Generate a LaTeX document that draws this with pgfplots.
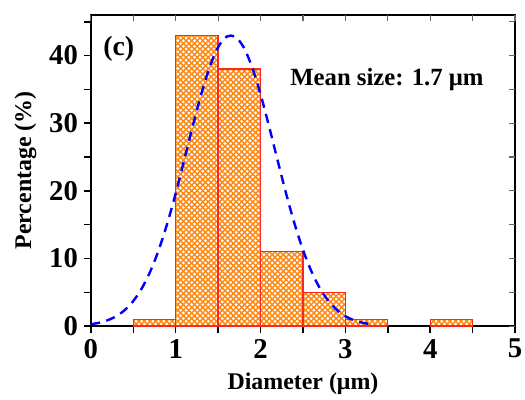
\documentclass[border=0pt]{standalone}
\usepackage{pgfplots}
\pgfplotsset{compat=1.18}
\usepackage{fontspec}
\setmainfont{Liberation Serif}
\usetikzlibrary{patterns}
\pgfdeclarepatternformonly{mycross}{\pgfqpoint{-0.5pt}{-0.5pt}}{\pgfqpoint{3.5pt}{3.5pt}}{\pgfqpoint{3pt}{3pt}}{%
  \pgfsetlinewidth{0.75pt}%
  \pgfpathmoveto{\pgfqpoint{-0.2pt}{-0.2pt}}\pgfpathlineto{\pgfqpoint{3.2pt}{3.2pt}}%
  \pgfpathmoveto{\pgfqpoint{-0.2pt}{3.2pt}}\pgfpathlineto{\pgfqpoint{3.2pt}{-0.2pt}}%
  \pgfusepath{stroke}}
\definecolor{barorange}{RGB}{255,135,15}
\definecolor{baredge}{RGB}{250,40,30}
\begin{document}
\begin{tikzpicture}
\pgfplotsset{
  common/.style={
    scale only axis, width=229pt, height=168pt,
    xmin=0, xmax=5, ymin=0, ymax=46,
    xtick={0,1,2,3,4,5}, minor xtick={0.5,1.5,2.5,3.5,4.5},
    ytick={0,10,20,30,40}, minor ytick={5,15,25,35,45},
    major tick length=3.5pt, minor tick length=3.5pt,
    axis line style={line width=0.9pt},
    every tick/.style={black, line width=0.8pt},
  }
}
\begin{axis}[common, name=main,
    tick align=outside, xtick pos=bottom, ytick pos=left,
    /pgf/number format/assume math mode=true,
    tick label style={font=\fontsize{15.5}{15.5}\selectfont\bfseries},
    label style={font=\fontsize{12.9}{13}\selectfont\bfseries},
    xlabel={Diameter (μm)}, ylabel={Percentage (\%)},
    xlabel style={yshift=-0.8pt}, ylabel style={yshift=0pt},
    clip=false]
\addplot[ybar interval, draw=baredge, line width=0.7pt, pattern=mycross, pattern color=barorange]
  coordinates {(0.5,1) (1.0,43) (1.5,38) (2.0,11) (2.5,5) (3.0,1) (3.5,1)};
\addplot[ybar interval, draw=baredge, line width=0.7pt, pattern=mycross, pattern color=barorange]
  coordinates {(4.0,1) (4.5,1)};
\addplot[blue, line width=1.3pt, dash pattern=on 5pt off 3.5pt, smooth] coordinates {
(0,0.28) (0.1,0.50) (0.2,0.88) (0.3,1.47) (0.4,2.38) (0.5,3.72) (0.6,5.58) (0.7,8.09)
(0.8,11.28) (0.9,15.17) (1.0,19.66) (1.1,24.56) (1.2,29.55) (1.3,34.27) (1.4,38.30)
(1.5,41.25) (1.6,42.80) (1.7,42.80) (1.8,41.25) (1.9,38.30) (2.0,34.27) (2.1,29.55)
(2.2,24.56) (2.3,19.66) (2.4,15.17) (2.5,11.28) (2.6,8.09) (2.7,5.58) (2.8,3.72)
(2.9,2.38) (3.0,1.47) (3.1,0.88) (3.2,0.50) (3.3,0.28)};
\node[font=\fontsize{15}{15}\selectfont\bfseries, anchor=north west, inner sep=0pt]
  at ([xshift=6.5pt,yshift=-11.5pt]rel axis cs:0,1) {(c)};
\node[font=\fontsize{13.35}{14}\selectfont\bfseries, anchor=base west, inner sep=0pt]
  at ([xshift=107.5pt,yshift=-37.8pt]rel axis cs:0,1) {Mean size: 1.7 μm};
\end{axis}
\begin{axis}[common, tick align=inside, xtick pos=top, ytick pos=right,
    xticklabels={}, yticklabels={}, axis line style={draw=none},
    every tick/.style={black!60, line width=0.6pt}]
\end{axis}
\pgfresetboundingbox
\useasboundingbox ([xshift=-49.1pt,yshift=-39.4pt]main.south west) rectangle ([xshift=5.4pt,yshift=8.1pt]main.north east);
\end{tikzpicture}
\end{document}
